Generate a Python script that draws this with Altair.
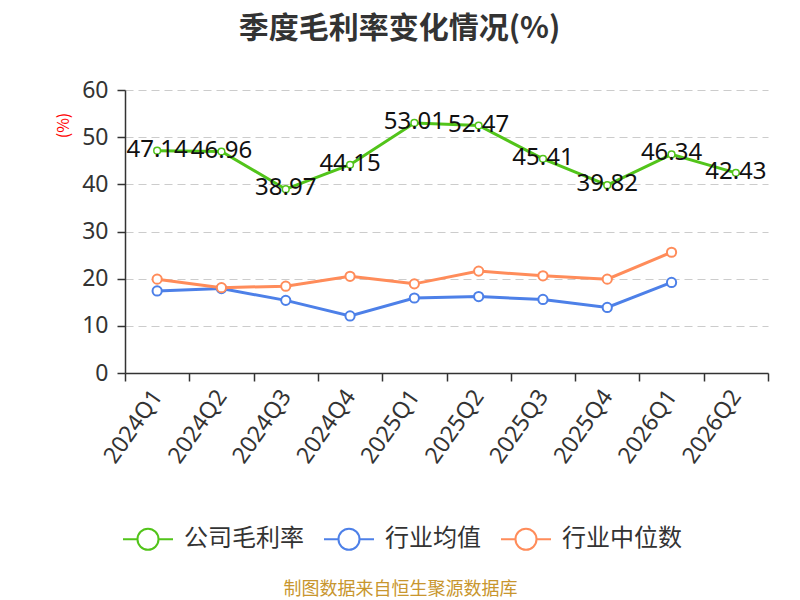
import altair as alt
import pandas as pd

quarters = ["2024Q1", "2024Q2", "2024Q3", "2024Q4", "2025Q1",
            "2025Q2", "2025Q3", "2025Q4", "2026Q1", "2026Q2"]
company = [47.14, 46.96, 38.97, 44.15, 53.01, 52.47, 45.41, 39.82, 46.34, 42.43]
ind_avg = [17.4, 17.9, 15.4, 12.1, 15.9, 16.2, 15.6, 13.9, 19.2]
ind_med = [19.9, 18.1, 18.4, 20.5, 18.9, 21.6, 20.6, 19.9, 25.6]
series_names = ["公司毛利率", "行业均值", "行业中位数"]
colors = ["#52c41a", "#4d80e8", "#ff8c5a"]

rows = []
for name, vals in zip(series_names, [company, ind_avg, ind_med]):
    for q, v in zip(quarters, vals):
        rows.append({"季度": q, "系列": name, "值": v})
df = pd.DataFrame(rows)

FONT = "Noto Sans, Noto Sans CJK SC"
legend_symbol = ("M-1,0L-0.42,0M0.42,0L1,0M-0.42,0A0.42,0.42,0,1,1,0.42,0"
                 "A0.42,0.42,0,1,1,-0.42,0Z")

x_enc = alt.X(
    "季度:N",
    sort=quarters,
    bandPosition=0.5,
    scale=alt.Scale(type="band", domain=quarters, paddingInner=0, paddingOuter=0),
    axis=alt.Axis(
        labelAngle=-55, labelAlign="right", labelBaseline="middle",
        labelFontSize=23, labelColor="#333", labelPadding=11,
        tickBand="extent", tickSize=8, tickColor="#333", tickWidth=1.5,
        domainColor="#333", domainWidth=1.5, grid=False,
        title="制图数据来自恒生聚源数据库", titleColor="#c8962e",
        titleFontSize=18, titleFontWeight="normal",
        titleX=275, titleY=216, titleAlign="center", titleBaseline="middle",
    ),
)
y_enc = alt.Y(
    "值:Q",
    scale=alt.Scale(domain=[0, 60], nice=False),
    axis=alt.Axis(
        values=[0, 10, 20, 30, 40, 50, 60], grid=True, gridDash=[8, 5],
        gridColor="#cccccc", gridWidth=1.2, labelFontSize=23, labelColor="#333",
        tickSize=8, tickColor="#333", tickWidth=1.5, labelPadding=9,
        domainColor="#333", domainWidth=1.5,
        title="(%)", titleColor="#ff0000", titleFontSize=16,
        titleFontWeight="normal", titleAngle=-90, titleX=-62, titleY=35,
        titleAlign="center", titleBaseline="middle",
    ),
)
color_scale = alt.Scale(domain=series_names, range=colors)
color_legend = alt.Color(
    "系列:N", scale=color_scale, sort=series_names,
    legend=alt.Legend(
        title=None, orient="none", legendX=-3, legendY=423,
        direction="horizontal", symbolType=legend_symbol, symbolSize=2500,
        symbolStrokeWidth=2, labelFontSize=24, labelColor="#333",
        labelOffset=10, columnPadding=16, labelFont="Noto Sans CJK SC",
    ),
)
color_nolegend = alt.Color("系列:N", scale=color_scale, legend=None)

base = alt.Chart(df)
lines = base.mark_line(strokeWidth=3).encode(x=x_enc, y=y_enc, color=color_legend)
pts_ind = base.transform_filter(alt.datum["系列"] != "公司毛利率").mark_point(
    filled=False, fill="white", fillOpacity=1, opacity=1, size=85, strokeWidth=2
).encode(x=x_enc, y=y_enc, color=color_nolegend)
pts_co = base.transform_filter(alt.datum["系列"] == "公司毛利率").mark_point(
    filled=False, fill="white", fillOpacity=1, opacity=1, size=45, strokeWidth=1.5
).encode(x=x_enc, y=y_enc, color=color_nolegend)
labels = base.transform_filter(alt.datum["系列"] == "公司毛利率").mark_text(
    fontSize=24, color="#111", baseline="middle", dy=-1, font=FONT
).encode(x=x_enc, y=y_enc, text=alt.Text("值:Q", format=".2f"))

chart = alt.layer(lines, pts_ind, pts_co, labels).properties(
    width=643, height=283,
    autosize=alt.AutoSizeParams(type="none"),
    padding={"left": 117, "top": 82, "right": 24, "bottom": 226},
    title=alt.TitleParams(
        "季度毛利率变化情况(%)", fontSize=30, fontWeight="bold",
        font="Noto Sans CJK SC", color="#333", anchor="middle", dx=-47, offset=35,
    ),
).configure_view(stroke=None).configure_axis(
    labelFont=FONT, titleFont="Noto Sans CJK SC"
)

chart.save("out.html", embed_options={"renderer": "svg", "actions": False})
